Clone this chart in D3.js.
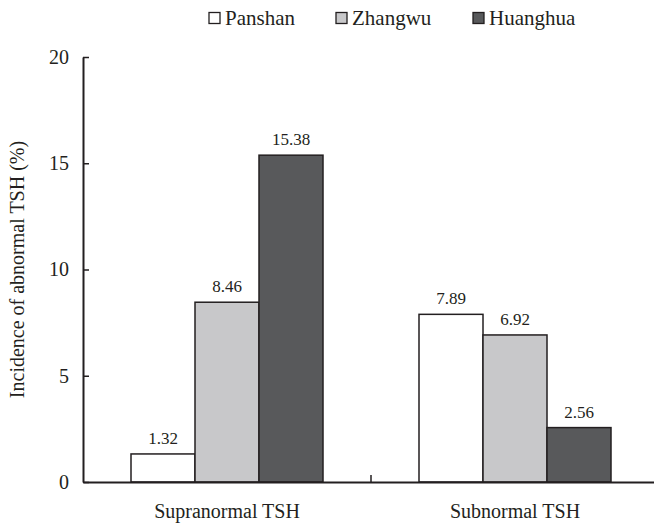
<!DOCTYPE html>
<html><head><meta charset="utf-8">
<script src="https://cdn.jsdelivr.net/npm/d3@7"></script>
<style>body{margin:0;background:#fff}svg{display:block}text{font-family:"Liberation Serif",serif;fill:#231f20}</style>
</head><body><svg id="c" width="654" height="523"></svg>
<script>
const categories = ["Supranormal TSH", "Subnormal TSH"];
const seriesNames = ["Panshan", "Zhangwu", "Huanghua"];
const panshan = [1.32, 7.89];
const zhangwu = [8.46, 6.92];
const huanghua = [15.38, 2.56];
const yTicks = [0, 5, 10, 15, 20];
const colors = ["#ffffff", "#c8c8ca", "#58595b"];
const values = [panshan, zhangwu, huanghua];

const FF = "'Liberation Serif', serif";
const svg = d3.select("#c");
const x0 = 83, x1 = 659, yTop = 57, yBot = 482;
const x = d3.scaleBand().domain(categories).range([x0, x1]);
const xs = d3.scaleBand().domain(seriesNames).range([48, 240]);
const y = d3.scaleLinear().domain([0, 20]).range([yBot, yTop]);

// bars
seriesNames.forEach((s, si) => {
  categories.forEach((c, ci) => {
    const v = values[si][ci];
    svg.append("rect")
      .attr("x", x(c) + xs(s)).attr("y", y(v))
      .attr("width", xs.bandwidth()).attr("height", y(0) - y(v))
      .attr("fill", colors[si]).attr("stroke", "#231f20").attr("stroke-width", 1.5);
    svg.append("text")
      .attr("x", x(c) + xs(s) + xs.bandwidth() / 2).attr("y", y(v) - 10)
      .attr("text-anchor", "middle").attr("font-size", 17).attr("font-family", FF).text(v.toFixed(2));
  });
});

// y axis
const ya = svg.append("g").attr("transform", `translate(${x0},0)`)
  .call(d3.axisLeft(y).tickValues(yTicks).tickSize(-6).tickSizeOuter(0).tickPadding(14));
ya.attr("font-family", FF);
ya.select(".domain").attr("stroke", "#231f20").attr("stroke-width", 2);
ya.selectAll(".tick line").attr("stroke", "#231f20").attr("stroke-width", 1.5);
ya.selectAll(".tick text").attr("font-size", 20).attr("fill", "#231f20");

// x axis
const xa = svg.append("g").attr("transform", `translate(0,${yBot})`)
  .call(d3.axisBottom(x).tickSize(0).tickPadding(22));
xa.attr("font-family", FF);
xa.select(".domain").attr("stroke", "#231f20").attr("stroke-width", 2);
xa.selectAll(".tick text").attr("font-size", 20).attr("fill", "#231f20").attr("dy", "0.71em");
// boundary tick between categories
svg.append("line").attr("x1", x(categories[1])).attr("x2", x(categories[1]))
  .attr("y1", yBot).attr("y2", yBot - 7).attr("stroke", "#231f20").attr("stroke-width", 1.5);

// y label
svg.append("text").attr("transform", `translate(24,${(yTop + yBot) / 2}) rotate(-90)`)
  .attr("text-anchor", "middle").attr("font-size", 20).attr("font-family", FF).text("Incidence of abnormal TSH (%)");

// legend
const legX = [209, 336, 473];
seriesNames.forEach((s, i) => {
  svg.append("rect").attr("x", legX[i]).attr("y", 12.5).attr("width", 11).attr("height", 11)
    .attr("fill", colors[i]).attr("stroke", "#231f20").attr("stroke-width", 1.3);
  svg.append("text").attr("x", legX[i] + 16).attr("y", 25).attr("font-size", 21).attr("font-family", FF).text(s);
});
</script></body></html>
